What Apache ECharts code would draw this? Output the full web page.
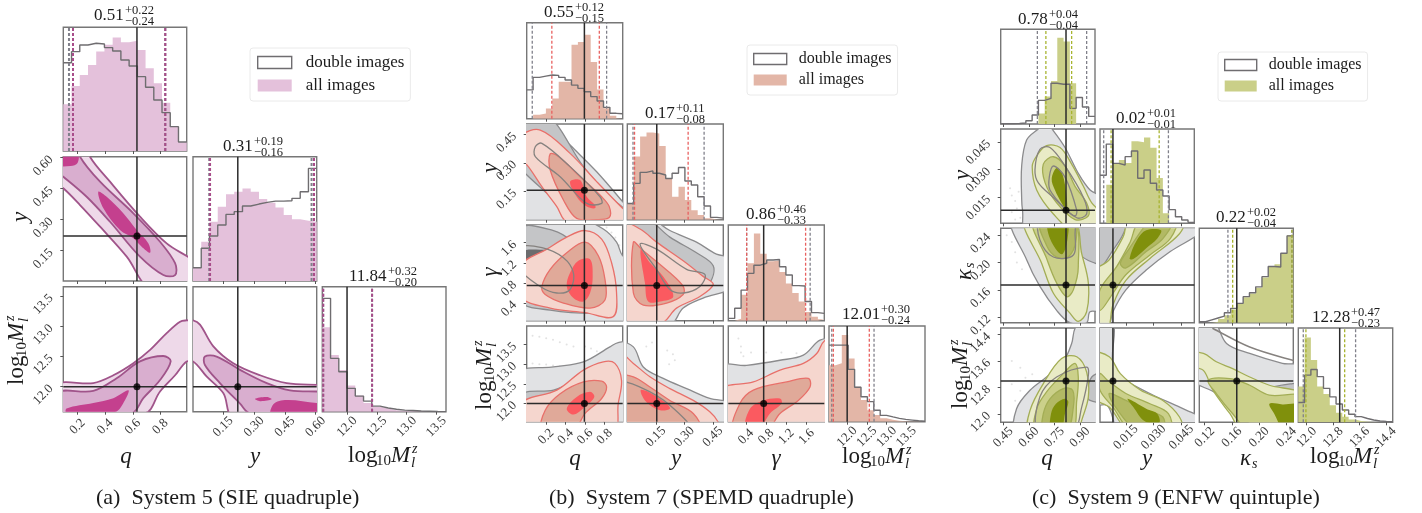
<!DOCTYPE html>
<html><head><meta charset="utf-8">
<script src="https://cdn.jsdelivr.net/npm/echarts@6/dist/echarts.min.js"></script>
<style>html,body{margin:0;background:#fff}#c{width:1422px;height:513px}</style></head>
<body><div id="c"></div>
<script>
// ---------- tick labels ----------
const aQTicks=['0.2','0.4','0.6','0.8'], aYTicks=['0.15','0.30','0.45','0.60'], aMTicks=['12.0','12.5','13.0','13.5'];
const bQTicks=['0.2','0.4','0.6','0.8'], bYTicks=['0.15','0.30','0.45'], bGTicks=['0.4','0.8','1.2','1.6'], bMTicks=['12.0','12.5','13.0','13.5'];
const cQTicks=['0.45','0.60','0.75','0.90'], cYTicks=['0.015','0.030','0.045'], cKTicks=['0.12','0.16','0.20','0.24'], cMTicks=['12.0','12.8','13.6','14.4'];
// ---------- titles ----------
const aTitles=[['0.51','+0.22','−0.24'],['0.31','+0.19','−0.16'],['11.84','+0.32','−0.20']];
const bTitles=[['0.55','+0.12','−0.15'],['0.17','+0.11','−0.08'],['0.86','+0.46','−0.33'],['12.01','+0.30','−0.24']];
const cTitles=[['0.78','+0.04','−0.04'],['0.02','+0.01','−0.01'],['0.22','+0.02','−0.04'],['12.28','+0.47','−0.23']];
const captions=['(a)  System 5 (SIE quadruple)','(b)  System 7 (SPEMD quadruple)','(c)  System 9 (ENFW quintuple)'];
// ---------- histograms: heights relative to panel height ----------
const aHistQAll=[.377,.526,.615,.696,.804,.858,.917,.88,.892,.817,.668,.547,.391,.197,.07];
const aHistQDbl=[.714,.803,.857,.871,.865,.836,.809,.736,.687,.601,.515,.412,.31,.197,.073];
const aHistYAll=[.107,.316,.477,.598,.697,.718,.745,.718,.66,.63,.592,.531,.496,.485,.477];
const aHistYDbl=[.107,.263,.362,.45,.536,.558,.603,.619,.633,.643,.643,.646,.665,.718,.906];
const aHistMAll=[.675,.453,.333,.21,.13,.07,.04,.025,.012,.008,.005,.003,.002,.001,0];
const aHistMDbl=[.907,.427,.32,.187,.125,.085,.045,.03,.02,.013,.01,.006,.004,.002,.001];
const bHistQAll=[0,.04,.055,.107,.21,.385,.385,.77,.80,.875,.59,.305,.108,.03,.004];
const bHistQDbl=[.30,.43,.444,.455,.451,.43,.403,.35,.316,.28,.23,.184,.118,.056,.052];
const bHistYAll=[.17,.66,.87,.91,.90,.77,.43,.24,.345,.205,.10,.05,.014,.003,0];
const bHistYDbl=[.17,.38,.495,.51,.485,.467,.43,.485,.545,.404,.362,.24,.143,.024,.017];
const bHistGAll=[0,.02,.27,.6,.91,.70,.62,.63,.51,.39,.29,.20,.09,.04,.014];
const bHistGDbl=[.024,.13,.32,.495,.58,.60,.634,.64,.564,.477,.366,.362,.20,.084,.077];
const bHistMAll=[.59,.61,.905,.66,.365,.226,.12,.07,.035,.02,.01,.005,.003,.001,0];
const bHistMDbl=[.80,.80,.80,.547,.36,.26,.21,.12,.066,.05,.035,.024,.017,.01,.004];
const cHistQAll=[0,0,0,0,0,0,.11,.29,.455,.91,.87,.43,0,0,0];
const cHistQDbl=[.003,.003,.005,.01,.035,.095,.25,.27,.43,.42,.42,.165,.28,.18,.08];
const cHistYAll=[0,.41,.64,.67,.64,.87,.86,.91,.80,.48,.106,0,0,0,0];
const cHistYDbl=[.51,.84,.636,.618,.707,.767,.477,.565,.424,.353,.29,.145,.07,.035,.01];
const cHistKAll=[0,0,.01,.04,.08,.14,.2,.27,.31,.37,.48,.59,.62,.73,.93];
const cHistKDbl=[.01,.03,.05,.07,.106,.152,.205,.276,.318,.38,.488,.596,.59,.735,.92];
const cHistMAll=[.38,.9,.66,.38,.3,.18,.1,.06,.03,.015,.006,.003,.001,0,0];
const cHistMDbl=[.21,.50,.56,.484,.36,.27,.194,.13,.085,.06,.04,.025,.014,.01,.007];
// ---------- quantile and truth values ----------
const aTruth=[.63,.221,12.0], bTruth=[.592,.155,.75,12.0], cTruth=[.818,.008,.167,13.0];
const aDashDbl=[[.138,.835],[.082,.58],[11.6,12.42]], aDashAll=[[.167,.835],[.086,.592],[11.6,12.42]];
const bDashDbl=[[.057,.82],[.03,.404],[.413,1.67],[11.61,12.68]], bDashAll=[[.258,.745],[.038,.32],[.413,1.58],[11.65,12.56]];
const cDashDbl=[[.65,.939],[.003,.038],[.154,.248],[11.9,13.48]], cDashAll=[[.70,.851],[.007,.033],[.161,.248],[11.98,13.15]];
// ---------- System 5 contours ----------
const aQY_l=[[.05,.65],[.29,.65],[.29,.605],[.435,.484],[.652,.315],[.845,.185],[.99,.124],[1.05,.1],[1.05,-.05],[.72,-.03],[.556,.121],[.363,.266],[.218,.371],[.097,.452],[.05,.47]];
const aQY_m=[[.05,.65],[.218,.65],[.218,.605],[.363,.484],[.604,.331],[.797,.193],[.906,.089],[.906,.032],[.821,.032],[.652,.121],[.435,.29],[.266,.411],[.097,.508],[.05,.53]];
const aQY_d1=[[.05,.62],[.2,.62],[.2,.575],[.15,.56],[.05,.565]];
const aQY_d2=[[.35,.435],[.411,.411],[.531,.331],[.628,.25],[.713,.185],[.725,.14],[.664,.169],[.604,.21],[.507,.25],[.387,.355]];
const aQM_l=[[.05,12.03],[.314,12.06],[.459,12.19],[.604,12.39],[.725,12.61],[.845,12.89],[.942,13.08],[.99,13.10],[1.05,13.10],[1.05,12.42],[.99,12.42],[.906,12.19],[.797,11.92],[.688,11.56],[.05,11.5]];
const aQM_m=[[.05,11.9],[.314,11.93],[.483,12.14],[.652,12.42],[.821,12.51],[.874,12.42],[.797,12.11],[.676,11.81],[.592,11.56],[.05,11.5]];
const aQM_d=[[.121,11.64],[.314,11.73],[.459,11.81],[.568,11.94],[.544,11.78],[.471,11.58],[.121,11.56]];
const aYM_l=[[-.05,13.1],[.003,13.1],[.037,13.03],[.102,12.67],[.199,12.39],[.329,12.19],[.459,12.06],[.605,12.03],[.66,12.03],[.66,11.5],[.199,11.5],[.151,11.89],[.069,12.17],[.003,12.42],[-.05,12.42]];
const aYM_m=[[.061,12.5],[.118,12.5],[.232,12.28],[.362,12.06],[.475,11.94],[.605,11.92],[.66,11.92],[.66,11.5],[.28,11.56],[.232,11.72],[.134,12.06],[.061,12.36]];
const aYM_d1=[[.394,11.71],[.459,11.78],[.605,11.73],[.66,11.73],[.66,11.5],[.386,11.5]];
const aYM_d2=[[.305,11.8],[.362,11.83],[.386,11.79],[.329,11.76]];
// ---------- System 7 contours ----------
const bQY_dl=[[-.05,.55],[.23,.55],[.30,.47],[.445,.394],[.718,.253],[.984,.095],[1.05,.05],[1.05,-.05],[-.05,-.05]];
const bQY_dm=[[-.05,.55],[.22,.55],[.582,.28],[.854,.121],[1.05,.03],[1.05,-.03],[.513,-.01],[.343,.069],[.207,.139],[.002,.236],[-.05,.27]];
const bQY_al=[[-.05,.44],[.139,.473],[.445,.35],[.718,.201],[.984,.06],[1.05,.03],[1.05,-.05],[.411,-.01],[.309,.069],[.156,.174],[.002,.289],[-.05,.3]];
const bQY_am=[[.241,.347],[.326,.333],[.548,.227],[.769,.121],[.847,.069],[.847,.012],[.718,0],[.513,.007],[.377,.104],[.241,.262]];
const bQY_ad=[[.445,.201],[.548,.209],[.616,.121],[.701,.077],[.701,.06],[.616,.069],[.513,.121]];
const bQY_d2=[[.088,.385],[.156,.403],[.445,.28],[.752,.121],[.769,.086],[.616,.086],[.343,.227],[.088,.333]];
const bQG_dl=[[-.07,2.08],[.54,2.08],[.786,1.87],[.922,1.61],[.984,1.34],[1.06,1.34],[1.06,-.07],[-.07,-.07]];
const bQG_dm=[[-.066,1.87],[.275,1.84],[.479,1.61],[.684,1.2],[.786,.73],[.82,.3],[.786,.2],[.241,.26],[-.066,.46]];
const bQG_dd=[[-.066,1.40],[.156,1.46],[.258,1.42],[.19,1.17],[.088,1.0],[-.066,.93]];
const bQG_al=[[-.066,1.14],[.207,1.47],[.411,1.71],[.599,1.84],[.769,1.67],[.871,1.2],[.922,.6],[.888,.13],[.599,.21],[.241,.3],[-.066,.53]];
const bQG_am=[[.156,.73],[.241,1.07],[.411,1.40],[.599,1.61],[.735,1.34],[.803,.87],[.803,.46],[.65,.3],[.377,.40],[.19,.57]];
const bQG_ad=[[.411,.73],[.445,1.0],[.53,1.24],[.65,1.27],[.677,.93],[.65,.6],[.582,.43],[.479,.5]];
const bQG_d2=[[-.066,1.5],[.156,1.5],[.377,1.30],[.479,1.0],[.445,.67],[.309,.6],[.139,.73],[-.066,1.07]];
const bYG_dl=[[-.02,2.08],[.119,2.08],[.224,1.84],[.364,1.61],[.469,1.37],[.557,1.27],[.557,.73],[.399,.50],[.294,.30],[.224,-.04],[-.02,-.04]];
const bYG_dm=[[-.02,2.08],[.10,2.08],[.224,1.71],[.364,1.40],[.452,1.14],[.434,.8],[.364,.60],[.259,.37],[.154,.30],[-.02,.33]];
const bYG_al=[[-.02,1.97],[.067,1.87],[.154,1.61],[.294,1.24],[.399,.93],[.452,.77],[.382,.53],[.259,.3],[.18,0],[.014,0],[-.02,.26]];
const bYG_am=[[.032,1.61],[.075,1.47],[.224,1.0],[.294,.73],[.294,.57],[.207,.40],[.084,.36],[.032,.60]];
const bYG_ad=[[.07,1.46],[.119,1.2],[.189,.93],[.242,.53],[.172,.43],[.11,.43],[.093,.8]];
const bYG_d2=[[.067,1.57],[.154,1.47],[.312,1.07],[.408,.97],[.382,.73],[.294,.6],[.224,.67],[.154,1.07]];
const bQM_dl=[[-.066,12.78],[.275,12.93],[.582,13.06],[.854,13.44],[.939,13.55],[1.06,13.53],[1.06,11.3],[-.066,11.3]];
const bQM_dm=[[-.066,12.21],[.275,12.34],[.445,12.51],[.752,12.72],[.922,12.59],[.82,12.08],[.735,11.32],[-.066,11.32]];
const bQM_al=[[-.066,12.0],[.309,12.34],[.582,12.85],[.786,13.06],[.905,13.02],[.973,12.59],[.939,12.0],[.888,11.32],[-.066,11.32]];
const bQM_am=[[.156,11.32],[.19,11.83],[.343,12.25],[.582,12.55],[.769,12.57],[.82,12.42],[.769,12.13],[.599,11.75],[.479,11.32]];
const bQM_ad=[[.411,11.87],[.513,12.17],[.65,12.3],[.694,12.17],[.599,11.92],[.479,11.72]];
const bYM_dl=[[-.04,13.53],[.032,13.44],[.084,12.93],[.189,12.64],[.312,12.38],[.434,12.13],[.557,11.98],[.557,11.32],[-.04,11.32]];
const bYM_al=[[-.04,13.27],[.032,13.02],[.119,12.68],[.224,12.38],[.347,12.08],[.434,11.79],[.478,11.53],[.486,11.32],[-.04,11.32]];
const bYM_am=[[-.04,12.68],[.032,12.68],[.119,12.42],[.224,12.08],[.347,11.75],[.382,11.32],[-.04,11.32]];
const bYM_ad=[[.07,12.34],[.11,12.3],[.207,12.0],[.224,11.87],[.172,11.83],[.10,12.04]];
const bYM_d2=[[-.04,12.51],[.067,12.42],[.224,11.96],[.329,11.32],[-.04,11.32]];
const bGM_dl=[[-.115,12.93],[.413,12.97],[1.073,13.10],[1.535,13.23],[1.865,13.61],[2.13,13.59],[2.13,11.32],[-.115,11.32]];
const bGM_al=[[-.115,12.34],[.545,12.55],[1.073,12.85],[1.535,13.02],[1.80,13.27],[1.95,13.59],[2.13,13.59],[2.13,11.32],[-.115,11.32]];
const bGM_am=[[.149,11.32],[.28,12],[.545,12.34],[1.205,12.55],[1.634,12.64],[1.667,12.42],[1.436,12.08],[1.073,11.75],[.809,11.32]];
const bGM_ad=[[.38,11.32],[.479,11.87],[.743,12.08],[1.073,12.13],[1.106,12.0],[.875,11.75],[.644,11.32]];
// ---------- System 9 contours ----------
const cQY_dl=[[.587,-.004],[.563,.008],[.558,.014],[.558,.032],[.587,.046],[.655,.052],[.704,.055],[.744,.051],[.812,.042],[.89,.028],[.959,.019],[1.04,.014],[1.04,-.004]];
const cQY_dd=[[.959,.005],[.988,.007],[1.04,.005],[1.04,-.004],[.959,-.004]];
const cQY_al=[[.62,.032],[.65,.038],[.704,.043],[.783,.042],[.851,.033],[.92,.021],[.969,.012],[1.04,.005],[1.04,-.004],[.871,-.004],[.744,.006],[.646,.019]];
const cQY_am=[[.685,.033],[.744,.037],[.812,.032],[.871,.021],[.939,.012],[.949,.005],[.871,.003],[.763,.012],[.695,.023]];
const cQY_ad=[[.734,.025],[.763,.031],[.796,.028],[.822,.015],[.822,.008],[.792,.012],[.753,.019]];
const cQY_d2=[[.636,.03],[.665,.041],[.724,.042],[.812,.032],[.92,.015],[.939,.006],[.881,.004],[.744,.015],[.655,.023]];
const cQY_d3=[[.72,.026],[.744,.032],[.812,.026],[.881,.008],[.871,.005],[.822,.008],[.724,.019]];
const cQK_dl=[[.509,.262],[.587,.204],[.665,.165],[.763,.13],[.841,.112],[.939,.112],[.959,.128],[1.04,.13],[1.04,.262]];
const cQK_dm=[[.89,.262],[.90,.213],[.988,.199],[1.04,.199],[1.04,.262]];
const cQK_al=[[.577,.262],[.675,.199],[.744,.155],[.841,.126],[.89,.114],[.939,.128],[.949,.17],[.91,.213],[.861,.262]];
const cQK_am=[[.626,.262],[.704,.206],[.763,.17],[.822,.15],[.861,.16],[.89,.194],[.861,.262]];
const cQK_a2=[[.665,.262],[.704,.225],[.763,.208],[.832,.208],[.877,.233],[.861,.262]];
const cQK_ad=[[.714,.262],[.724,.235],[.792,.212],[.826,.233],[.822,.262]];
const cQK_d2=[[.665,.262],[.665,.233],[.744,.208],[.861,.211],[.871,.242],[.861,.262]];
const cYK_dl=[[-.003,.262],[.057,.262],[.057,.247],[.039,.216],[.026,.189],[.015,.16],[.008,.128],[.005,.102],[-.003,.102]];
const cYK_dm=[[-.003,.262],[.015,.262],[.0136,.242],[.008,.218],[.001,.19],[-.003,.184]];
const cYK_al=[[-.003,.184],[.006,.204],[.0136,.238],[.017,.262],[.046,.262],[.044,.242],[.028,.206],[.015,.174],[.008,.138],[.005,.102],[-.003,.102]];
const cYK_am=[[.001,.16],[.01,.194],[.017,.228],[.023,.262],[.042,.262],[.039,.235],[.028,.211],[.015,.182],[.008,.155],[.001,.13]];
const cYK_a2=[[.012,.199],[.017,.221],[.0235,.247],[.028,.262],[.04,.262],[.035,.235],[.026,.216],[.015,.192]];
const cYK_ad=[[.017,.206],[.021,.233],[.026,.247],[.034,.247],[.032,.235],[.026,.221],[.019,.205]];
const cQM_dl=[[.528,11.5],[.528,12.16],[.607,12.72],[.704,13.12],[.802,13.58],[.851,14.13],[.871,14.59],[.92,14.84],[1.04,14.84],[1.04,11.5]];
const cQM_dm=[[.943,12.62],[.969,13.12],[1.04,13.22],[1.04,12.41],[.959,12.41]];
const cQM_al=[[.603,11.5],[.607,12.11],[.685,12.92],[.792,13.68],[.881,13.73],[.939,13.27],[.949,12.52],[.91,11.81],[.89,11.5]];
const cQM_am=[[.642,11.5],[.646,12.16],[.704,12.67],[.802,13.22],[.871,13.53],[.89,13.12],[.881,12.41],[.851,11.5]];
const cQM_a2=[[.685,11.5],[.685,12.01],[.724,12.46],[.802,12.77],[.857,12.72],[.861,12.21],[.822,11.5]];
const cQM_ad=[[.73,11.5],[.73,12.01],[.759,12.31],[.812,12.46],[.832,12.36],[.812,12.01],[.789,11.5]];
const cQM_d2=[[.655,11.5],[.665,12.52],[.763,13.12],[.939,13.42],[.949,13.17],[.91,12.21],[.861,11.5]];
const cYM_dl=[[-.003,14.84],[.008,14.84],[.008,13.42],[.015,13.02],[.028,12.62],[.042,12.26],[.052,12.01],[.057,11.91],[.057,11.5],[.012,11.5],[.005,12.26],[-.003,12.3]];
const cYM_al=[[-.003,13.83],[.006,13.73],[.012,13.22],[.023,12.72],[.035,12.41],[.044,11.91],[.045,11.5],[.017,11.5],[.006,12.21],[-.003,12.52]];
const cYM_am=[[.001,13.22],[.005,13.02],[.015,12.62],[.028,12.31],[.038,12.01],[.039,11.5],[.018,11.5],[.008,12.21],[.001,12.72]];
const cYM_a2=[[.006,12.62],[.015,12.41],[.026,12.11],[.035,11.91],[.035,11.5],[.021,11.5],[.01,12.16]];
const cYM_ad=[[.016,12.46],[.026,12.16],[.032,12.01],[.033,11.74],[.025,11.79],[.019,12.21]];
const cKM_dl=[[.098,14.84],[.132,14.84],[.152,14.13],[.186,13.83],[.234,13.53],[.264,13.42],[.264,11.5],[.205,11.5],[.137,12.62],[.098,13.12]];
const cKM_dm=[[.215,12.77],[.249,12.92],[.264,12.92],[.264,12.57],[.249,12.62]];
const cKM_d2=[[.132,14.59],[.186,14.03],[.249,13.63],[.264,13.58],[.264,13.57],[.249,13.62],[.186,14.02],[.132,14.58]];
const cKM_al=[[.098,13.83],[.118,13.83],[.137,13.58],[.161,13.37],[.186,13.12],[.215,12.87],[.264,12.57],[.264,11.5],[.176,11.5],[.157,12.01],[.132,12.72],[.118,13.32],[.098,13.47]];
const cKM_am=[[.125,13.02],[.157,13.07],[.186,12.87],[.215,12.57],[.264,12.52],[.264,11.5],[.186,11.5],[.161,12.01],[.137,12.62]];
const cKM_ad=[[.215,12.31],[.234,12.29],[.264,12.26],[.264,11.5],[.237,11.5],[.222,12.01]];
// ---------- faint samples ----------
const bQM_spk=[[.06,13.72],[.13,13.7],[.2,13.66],[.27,13.62],[.34,13.56],[.41,13.5],[.48,13.45],[.06,13.02],[.13,13.0],[.2,12.99],[.27,12.97],[.34,12.95],[.41,12.92],[.5,12.88],[.6,13.45],[.66,13.4],[.72,13.33],[.78,13.27]];
const bYM_spk=[[.21,13.35],[.24,13.25],[.25,13.1],[.22,13.0],[.1,13.45],[.13,13.55]];
const bGM_spk=[[.25,13.65],[.3,13.45],[.3,13.3],[.35,13.2],[.5,13.3],[.8,13.3],[1.1,13.3],[1.4,13.28]];
const bQG_spk=[[.82,1.9],[.87,1.8],[.91,1.7],[.95,1.55]];
const cQY_spk=[[.49,.02],[.5,.016],[.52,.013],[.54,.018],[.53,.009],[.5,.007],[.55,.004],[.57,.003],[.52,.003]];
const cQK_spk=[[.45,.255],[.47,.24],[.5,.23],[.52,.215],[.53,.2],[.56,.19]];
const cQM_spk=[[.5,13.6],[.55,13.4],[.58,13.1],[.62,13.2],[.5,12.9],[.52,12.4],[.55,12.7],[.9,14.4],[.93,14.5]];

// ---------- assembly ----------
const SERIF='"Liberation Serif"';
const INK='#3a3a3a';
function pal(al,am,a2,ad,edge,dash){return {al:{fill:al,stroke:edge},am:{fill:am,stroke:edge},a2:{fill:a2,stroke:edge},ad:{fill:ad,stroke:'rgba(0,0,0,0)'},
 dl:{fill:'#e1e2e4',stroke:'#8b8b8d'},dm:{fill:'#c4c5c7',stroke:'#8b8b8d'},dd:{fill:'#6c6c6e',stroke:'rgba(0,0,0,0)'},d2:{fill:'rgba(0,0,0,0)',stroke:'#86827f'},dash,hist:al};}
const systems=[
{cols:[[63.3,186.7],[193,316.7],[322.3,446]],rows:[[27.3,151],[156.7,281],[286.7,411.7]],
 ranges:[[.097,.99],[.003,.605],[11.585,13.66]],ticks:[aQTicks,aYTicks,aMTicks],truth:aTruth,
 histAll:[aHistQAll,aHistYAll,aHistMAll],histDbl:[aHistQDbl,aHistYDbl,aHistMDbl],dashDbl:aDashDbl,dashAll:aDashAll,dashW:2,lw:1.8,
 colors:pal('#eed9e9','#d9aecf','#d9aecf','#c4408e','#a0548a','#a84d8a'),histColor:'#e4c1db',
 panels:{'0,1':[['al',aQY_l],['am',aQY_m],['ad',aQY_d1],['ad',aQY_d2]],
         '0,2':[['al',aQM_l],['am',aQM_m],['ad',aQM_d]],
         '1,2':[['al',aYM_l],['am',aYM_m],['ad',aYM_d1],['ad',aYM_d2]]},spk:{},
 titles:aTitles,titlePos:[[94,16],[223,147],[349,277]],
 xNames:[['q',126,457],['y',255,457],['M',348,456]],yNames:[['y',21,217],['M',17,385]],
 legend:{left:250,top:48,font:17,iw:34,ih:12,gap:6,pad:[6,6,7,7],tp:9},
 caption:[96,498]},
{cols:[[526.7,622.7],[627.3,723.3],[728.3,824.3],[829,925]],rows:[[22.7,118.7],[124,219.7],[225,320.7],[326,421.7]],
 ranges:[[0,.985],[0,.505],[.05,1.95],[11.54,13.97]],ticks:[bQTicks,bYTicks,bGTicks,bMTicks],truth:bTruth,
 histAll:[bHistQAll,bHistYAll,bHistGAll,bHistMAll],histDbl:[bHistQDbl,bHistYDbl,bHistGDbl,bHistMDbl],dashDbl:bDashDbl,dashAll:bDashAll,dashW:1.3,lw:1.3,
 colors:pal('#f5d6ce','#e0a999','#e0a999','#fb5a60','#e8706a','#e8605f'),histColor:'#e3b6a7',
 panels:{'0,1':[['dl',bQY_dl],['dm',bQY_dm],['al',bQY_al],['am',bQY_am],['ad',bQY_ad],['d2',bQY_d2]],
         '0,2':[['dl',bQG_dl],['dm',bQG_dm],['dd',bQG_dd],['al',bQG_al],['am',bQG_am],['ad',bQG_ad],['d2',bQG_d2]],
         '1,2':[['dl',bYG_dl],['dm',bYG_dm],['al',bYG_al],['am',bYG_am],['ad',bYG_ad],['d2',bYG_d2]],
         '0,3':[['dl',bQM_dl],['dm',bQM_dm],['al',bQM_al],['am',bQM_am],['ad',bQM_ad]],
         '1,3':[['dl',bYM_dl],['al',bYM_al],['am',bYM_am],['ad',bYM_ad],['d2',bYM_d2]],
         '2,3':[['dl',bGM_dl],['al',bGM_al],['am',bGM_am],['ad',bGM_ad]]},
 spk:{'0,3':bQM_spk,'1,3':bYM_spk,'2,3':bGM_spk,'0,2':bQG_spk},
 titles:bTitles,titlePos:[[544,13],[645,114],[746,215],[842,315]],
 xNames:[['q',575,459],['y',676,459],['γ',776,459],['M',842,457]],yNames:[['y',491,168],['γ',491,272],['M',485,410]],
 legend:{left:747,top:45,font:16,iw:33,ih:11,gap:5,pad:[6,6,7,6],tp:7},
 caption:[549,498]},
{cols:[[1000.7,1095],[1100,1194.3],[1199.3,1293.3],[1298.3,1392.7]],rows:[[29.3,124],[129,223.3],[228.3,322.7],[328,422.3]],
 ranges:[[.435,.988],[.001,.052],[.112,.25],[11.75,14.6]],ticks:[cQTicks,cYTicks,cKTicks,cMTicks],truth:cTruth,
 histAll:[cHistQAll,cHistYAll,cHistKAll,cHistMAll],histDbl:[cHistQDbl,cHistYDbl,cHistKDbl,cHistMDbl],dashDbl:cDashDbl,dashAll:cDashAll,dashW:1.3,lw:1.3,
 colors:pal('#e9ebc6','#cbd08a','#b2b964','#80900c','#a3ad55','#a8b430'),histColor:'#cacf88',
 panels:{'0,1':[['dl',cQY_dl],['dd',cQY_dd],['al',cQY_al],['am',cQY_am],['ad',cQY_ad],['d2',cQY_d2],['d2',cQY_d3]],
         '0,2':[['dl',cQK_dl],['dm',cQK_dm],['al',cQK_al],['am',cQK_am],['a2',cQK_a2],['ad',cQK_ad],['d2',cQK_d2]],
         '1,2':[['dl',cYK_dl],['dm',cYK_dm],['al',cYK_al],['am',cYK_am],['a2',cYK_a2],['ad',cYK_ad]],
         '0,3':[['dl',cQM_dl],['dm',cQM_dm],['al',cQM_al],['am',cQM_am],['a2',cQM_a2],['ad',cQM_ad],['d2',cQM_d2]],
         '1,3':[['dl',cYM_dl],['al',cYM_al],['am',cYM_am],['a2',cYM_a2],['ad',cYM_ad]],
         '2,3':[['dl',cKM_dl],['dm',cKM_dm],['d2',cKM_d2],['al',cKM_al],['am',cKM_am],['ad',cKM_ad]]},
 spk:{'0,1':cQY_spk,'0,2':cQK_spk,'0,3':cQM_spk},
 titles:cTitles,titlePos:[[1018,20],[1116,119],[1216,218],[1312,318]],
 xNames:[['q',1047,459],['y',1147,459],['k',1245,459],['M',1310,457]],yNames:[['y',963,175],['k',965,275],['M',961,409]],
 legend:{left:1218,top:52,font:16,iw:32,ih:11,gap:5,pad:[5,6,7,6],tp:7},
 caption:[1032,498]}
];
const grids=[],xAxes=[],yAxes=[],series=[],graphics=[],legends=[];
function axis(range,labels,side,showLabel,ticks){
  const vals=labels.map(Number);
  return {type:'value',min:range[0],max:range[1],position:side,splitLine:{show:false},axisLine:{show:false},
    axisTick:{show:ticks,length:3,customValues:vals,lineStyle:{color:'#555',width:1}},
    axisLabel:{show:showLabel,customValues:vals,formatter:v=>labels[vals.indexOf(v)],rotate:45,fontFamily:SERIF,fontSize:13,color:INK,
      align:side==='bottom'?'center':'right',verticalAlign:'middle',margin:side==='bottom'?15:12}};
}
function addGrid(c,r,xr,xl,yr,yl,showX,showY,yTicks){
  grids.push({left:c[0],top:r[0],width:c[1]-c[0],height:r[1]-r[0],show:true,borderColor:'#777',borderWidth:1.4,backgroundColor:'rgba(0,0,0,0)',containLabel:false});
  xAxes.push({...axis(xr,xl,'bottom',showX,true),gridIndex:grids.length-1});
  yAxes.push({...axis(yr,yl,'left',showY,yTicks),gridIndex:grids.length-1});
  return grids.length-1;
}
function addLine(g,pts,color,width,type,name,z){
  series.push({type:'line',name,xAxisIndex:g,yAxisIndex:g,data:pts,showSymbol:false,symbol:'none',silent:true,animation:false,z:z||3,
    lineStyle:{color,width,type:type||'solid'}});
}
function addHist(g,range,heights,color,filled,name){
  const n=heights.length,w=(range[1]-range[0])/n;
  const pts=heights.map((h,i)=>[range[0]+i*w,h]);pts.push([range[1],heights[n-1]]);
  series.push({type:'line',name,step:'end',xAxisIndex:g,yAxisIndex:g,data:pts,showSymbol:false,symbol:'none',silent:true,animation:false,z:filled?2:3,
    lineStyle:filled?{width:0,color}:{width:1.4,color},areaStyle:filled?{color,opacity:1}:undefined});
}
function addContour(g,pts,st,z,lw){
  series.push({type:'custom',xAxisIndex:g,yAxisIndex:g,clip:true,silent:true,animation:false,z,data:pts,encode:{x:0,y:1},
    renderItem:(p,api)=>p.dataIndex===0?{type:'polygon',shape:{points:pts.map(q=>api.coord(q)),smooth:.35},style:{fill:st.fill,stroke:st.stroke,lineWidth:lw}}:null});
}
function mathText(x,y,t,size,italic,align){return {type:'text',x,y,silent:true,style:{text:t,fontFamily:SERIF,fontSize:size,fontStyle:italic?'italic':'normal',fill:'#1c1c1c',verticalAlign:'middle',align:align||'left'}};}
function logLabel(x,y,rot){
  return {type:'group',x,y,rotation:rot,silent:true,children:[
    mathText(0,0,'log',23,false),mathText(28,5,'10',15,false),mathText(43,0,'M',23,true),mathText(63,7,'l',15,true),mathText(64,-7,'z',14,true)]};
}
function symLabel(s,x,y,rot){
  const kids=s==='k'?[mathText(-5,0,'κ',23,true),mathText(7,5,'s',14,true)]:[mathText(0,0,s,23,true,'center')];
  return {type:'group',x,y,rotation:rot,silent:true,children:kids};
}
systems.forEach((S,si)=>{
  const n=S.cols.length,c=S.colors;
  for(let col=0;col<n;col++){
    const g=addGrid(S.cols[col],S.rows[col],S.ranges[col],S.ticks[col],[0,1],['0.5'],col===n-1,false,false);
    addHist(g,S.ranges[col],S.histAll[col],S.histColor,true,'all images');
    addHist(g,S.ranges[col],S.histDbl[col],'#6f6d70',false,'double images');
    S.dashDbl[col].forEach(v=>addLine(g,[[v,0],[v,1]],'#80808a',S.dashW,[3,2],'q16 double',4));
    S.dashAll[col].forEach(v=>addLine(g,[[v,0],[v,1]],c.dash,S.dashW,[3,2],'q16 all',4));
    addLine(g,[[S.truth[col],0],[S.truth[col],1]],'#2b2b2b',1.5,'solid','truth',5);
    for(let row=col+1;row<n;row++){
      const h=addGrid(S.cols[col],S.rows[row],S.ranges[col],S.ticks[col],S.ranges[row],S.ticks[row],row===n-1,col===0,col===0);
      const polys=S.panels[col+','+row]||[];
      const spk=S.spk[col+','+row];
      if(spk) series.push({type:'scatter',xAxisIndex:h,yAxisIndex:h,data:spk,symbolSize:2,silent:true,animation:false,z:1,itemStyle:{color:'rgba(150,150,150,.35)'}});
      polys.forEach((p,i)=>addContour(h,p[1],c[p[0]],2+i*0.01,S.lw));
      addLine(h,[[S.truth[col],S.ranges[row][0]],[S.truth[col],S.ranges[row][1]]],'#2b2b2b',1.5,'solid','truth',5);
      addLine(h,[[S.ranges[col][0],S.truth[row]],[S.ranges[col][1],S.truth[row]]],'#2b2b2b',1.5,'solid','truth',5);
      series.push({type:'scatter',xAxisIndex:h,yAxisIndex:h,data:[[S.truth[col],S.truth[row]]],symbolSize:7,silent:true,animation:false,z:6,itemStyle:{color:'#000'}});
    }
  }
  S.titles.forEach((t,i)=>{
    const [x,y]=S.titlePos[i],w=t[0].length>4?39:31;
    graphics.push(mathText(x,y,t[0],17,false),mathText(x+w,y-5,t[1],12.5,false),mathText(x+w,y+6,t[2],12.5,false));
  });
  S.xNames.forEach(a=>graphics.push(a[0]==='M'?logLabel(a[1],a[2],0):symLabel(a[0],a[1],a[2],0)));
  S.yNames.forEach(a=>graphics.push(a[0]==='M'?logLabel(a[1],a[2],Math.PI/2):symLabel(a[0],a[1],a[2],Math.PI/2)));
  graphics.push({type:'text',x:S.caption[0],y:S.caption[1],silent:true,style:{text:captions[si],fontFamily:SERIF,fontSize:22,fill:'#1c1c1c',verticalAlign:'middle'}});
  const L=S.legend;
  legends.push({left:L.left,top:L.top,orient:'vertical',selectedMode:false,itemWidth:L.iw,itemHeight:L.ih,itemGap:L.gap,padding:L.pad,
    backgroundColor:'#fff',borderColor:'#eaeaea',borderWidth:1,borderRadius:3,
    textStyle:{fontFamily:SERIF,fontSize:L.font,color:'#1c1c1c',padding:[0,8,0,L.tp]},
    data:[{name:'double images',icon:'rect',itemStyle:{color:'#ffffff',borderColor:'#6f6d70',borderWidth:1.4}},
          {name:'all images',icon:'rect',itemStyle:{color:S.histColor,borderWidth:0}}]});
});
const chart=echarts.init(document.getElementById('c'),null,{renderer:'canvas',width:1422,height:513});
chart.setOption({animation:false,backgroundColor:'#fff',grid:grids,xAxis:xAxes,yAxis:yAxes,series,legend:legends,graphic:{elements:graphics}});
</script></body></html>
